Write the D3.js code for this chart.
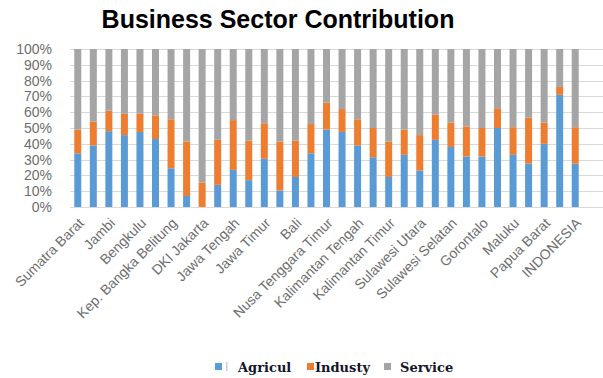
<!DOCTYPE html>
<html>
<head>
<meta charset="utf-8">
<script src="https://cdn.jsdelivr.net/npm/d3@7"></script>
<style>
  body { margin: 0; background: #fff; }
  svg { display: block; }
</style>
</head>
<body>
<svg id="chart" width="603" height="378"></svg>
<script>
// provinces, in chart order
var provinces = ["Sumatra Barat", "Riau", "Jambi", "Sumatra Selatan", "Bengkulu", "Lampung",
    "Kep. Bangka Belitung", "Kep. Riau", "DKI Jakarta", "Jawa Barat", "Jawa Tengah", "DI Yogyakarta",
    "Jawa Timur", "Banten", "Bali", "Nusa Tenggara Barat", "Nusa Tenggara Timur", "Kalimantan Barat",
    "Kalimantan Tengah", "Kalimantan Selatan", "Kalimantan Timur", "Kalimantan Utara", "Sulawesi Utara",
    "Sulawesi Tengah", "Sulawesi Selatan", "Sulawesi Tenggara", "Gorontalo", "Sulawesi Barat",
    "Maluku", "Maluku Utara", "Papua Barat", "Papua", "INDONESIA"];

// share in percent
var agricul = [34, 39, 48, 45.5, 47.5, 43, 24.5, 7, 0, 14, 23.5, 17, 30.5, 10.5, 19, 34, 49,
    47.5, 39, 31.5, 19, 33, 23, 42.5, 38, 32, 32, 50, 33, 27.5, 40, 71, 27.5];
var industy = [15, 15, 13, 13.5, 11.5, 15, 31, 34.5, 15.5, 28.5, 31.5, 25, 22.5, 31, 23, 18.5, 17,
    14.5, 16.5, 18.5, 22.5, 16, 22.5, 16, 15.5, 19, 18, 12.5, 17.5, 29, 13.5, 5, 23];

var seriesNames = ["Agricul", "Industy", "Service"];
var colors = ["#5b9bd5", "#ed7d31", "#a5a5a5"];
var yTicks = [0, 10, 20, 30, 40, 50, 60, 70, 80, 90, 100];

var rows = provinces.map(function(p, i) {
    return { name: p, Agricul: agricul[i], Industy: industy[i], Service: 100 - agricul[i] - industy[i] };
});

var svg = d3.select("#chart");
var plotLeft = 70, plotRight = 583, plotTop = 49, plotBottom = 207;

var x = d3.scaleBand()
    .domain(provinces)
    .range([plotLeft, plotRight])
    .paddingInner(0.55)
    .paddingOuter(0.275);

var y = d3.scaleLinear()
    .domain([0, 100])
    .range([plotBottom, plotTop]);

// title
svg.append("text")
    .attr("x", 278).attr("y", 28)
    .attr("text-anchor", "middle")
    .style("font-family", "Liberation Sans, Arial, sans-serif")
    .style("font-weight", "bold")
    .style("font-size", "25px")
    .style("fill", "#000")
    .text("Business Sector Contribution");

// gridlines
svg.append("g").selectAll("line").data(yTicks)
    .enter().append("line")
    .attr("x1", plotLeft).attr("x2", 603)
    .attr("y1", function(d) { return Math.round(y(d)) + 0.5; })
    .attr("y2", function(d) { return Math.round(y(d)) + 0.5; })
    .attr("stroke", "#d9d9d9")
    .attr("stroke-width", 1);

// y axis
var yAxis = svg.append("g")
    .attr("transform", "translate(" + (plotLeft - 15) + ",0)")
    .call(d3.axisLeft(y).tickValues(yTicks).tickSize(0).tickFormat(function(d) { return d + "%"; }));
yAxis.select(".domain").remove();
yAxis.selectAll("text")
    .style("font-family", "Liberation Sans Narrow, Liberation Sans, Arial, sans-serif")
    .style("font-size", "14px")
    .style("fill", "#6e6e6e");

// stacked bars
var stack = d3.stack().keys(seriesNames);
var layers = stack(rows);

svg.append("g").selectAll("g").data(layers)
    .enter().append("g")
    .attr("fill", function(d, i) { return colors[i]; })
    .selectAll("rect").data(function(d) { return d; })
    .enter().append("rect")
    .attr("x", function(d) { return x(d.data.name); })
    .attr("width", x.bandwidth())
    .attr("y", function(d) { return y(d[1]); })
    .attr("height", function(d) { return y(d[0]) - y(d[1]); });

// x axis, every other label
var xAxis = svg.append("g")
    .attr("transform", "translate(0," + plotBottom + ")")
    .call(d3.axisBottom(x).tickSize(0)
        .tickValues(provinces.filter(function(d, i) { return i % 2 === 0; })));
xAxis.select(".domain").remove();
xAxis.selectAll("text")
    .attr("text-anchor", "end")
    .attr("dy", 0)
    .attr("y", 0)
    .attr("transform", "translate(7,17) rotate(-45)")
    .style("font-family", "Liberation Sans Narrow, Liberation Sans, Arial, sans-serif")
    .style("font-size", "14px")
    .style("fill", "#6e6e6e");

// legend
var legendX = [215, 307, 384];
var textOffset = [23, 8, 16];
var legend = svg.append("g").selectAll("g").data(seriesNames)
    .enter().append("g")
    .attr("transform", function(d, i) { return "translate(" + legendX[i] + ",363)"; });
legend.append("rect")
    .attr("width", 7).attr("height", 7)
    .attr("fill", function(d, i) { return colors[i]; });
legend.filter(function(d, i) { return i === 0; }).append("rect")
    .attr("x", 11).attr("y", -1).attr("width", 1.5).attr("height", 9)
    .attr("fill", "#d0d0d0");
legend.append("text")
    .attr("x", function(d, i) { return textOffset[i]; })
    .attr("y", 9)
    .style("font-family", "DejaVu Serif, Liberation Serif, serif")
    .style("font-weight", "bold")
    .style("font-size", "13px")
    .style("fill", "#14142a")
    .text(function(d) { return d; });
</script>
</body>
</html>
